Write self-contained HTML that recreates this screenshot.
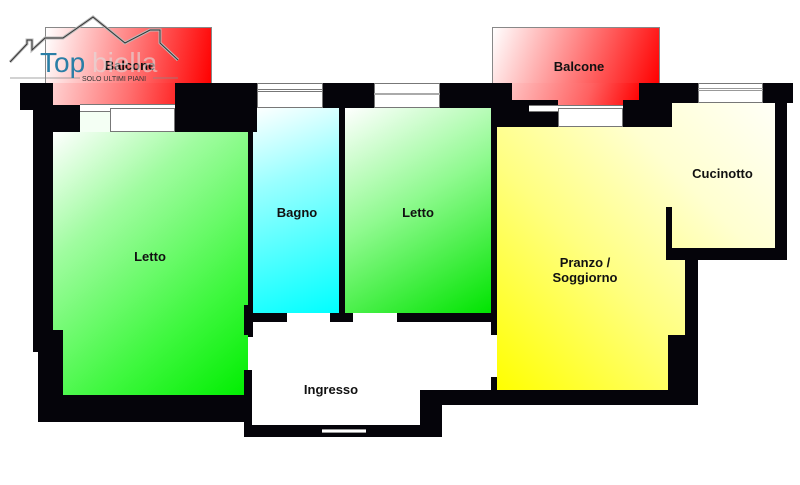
<!DOCTYPE html>
<html><head><meta charset="utf-8"><style>
body{margin:0;width:800px;height:485px;background:#fff;position:relative;overflow:hidden;font-family:"Liberation Sans",Arial,sans-serif}
div{position:absolute;box-sizing:border-box}
.k{background:#05040a}
.t{font-weight:bold;font-size:13px;color:#111;text-align:center;white-space:nowrap}
.w{background:#fff;border:1px solid #777}
</style></head><body>
<!-- balconies -->
<div style="left:45px;top:27px;width:167px;height:57px;border:1px solid #888;border-bottom:none;background:linear-gradient(100deg,#fff 0%,#ff8080 50%,#f00 100%)"></div>
<div style="left:53px;top:83px;width:150px;height:22px;background:linear-gradient(100deg,#ffd0d0 0%,#ff7070 50%,#f00 100%)"></div>
<div style="left:492px;top:27px;width:168px;height:57px;border:1px solid #888;border-bottom:none;background:linear-gradient(110deg,#fff 0%,#ff8080 50%,#f00 100%)"></div>
<div style="left:512px;top:83px;width:127px;height:22px;background:linear-gradient(110deg,#ffc0c0 0%,#ff6060 60%,#f00 100%)"></div>
<!-- rooms -->
<div style="left:53px;top:132px;width:195px;height:263px;background:linear-gradient(140deg,#fff 0%,#a0fca0 30%,#40f840 70%,#00ee00 100%);clip-path:polygon(0 0,100% 0,100% 100%,10px 100%,10px 198px,0 198px)"></div>
<div style="left:80px;top:112px;width:30px;height:20px;background:#f4fff4"></div>
<div style="left:253px;top:108px;width:86px;height:205px;background:linear-gradient(160deg,#fff 0%,#9ff 35%,#0ff 100%)"></div>
<div style="left:345px;top:108px;width:146px;height:205px;background:linear-gradient(150deg,#fff 0%,#90fa90 45%,#00e400 100%)"></div>
<div style="left:252px;top:322px;width:243px;height:103px;background:#fff"></div>
<div style="left:497px;top:100px;width:278px;height:290px;background:linear-gradient(225deg,#fffff8 0%,#ffffd0 30%,#ffff80 60%,#ff0 100%);clip-path:polygon(0 27px,175px 27px,175px 3px,278px 3px,278px 148px,188px 148px,188px 235px,171px 235px,171px 290px,0 290px)"></div>
<!-- walls -->
<div class="k" style="left:20px;top:83px;width:33px;height:27px"></div>
<div class="k" style="left:33px;top:105px;width:47px;height:27px"></div>
<div class="k" style="left:33px;top:110px;width:20px;height:242px"></div>
<div class="k" style="left:38px;top:330px;width:25px;height:90px"></div>
<div class="k" style="left:38px;top:395px;width:214px;height:27px"></div>
<div class="k" style="left:175px;top:83px;width:82px;height:49px"></div>
<div class="k" style="left:203px;top:83px;width:50px;height:25px"></div>
<div class="k" style="left:248px;top:83px;width:5px;height:254px"></div>
<div class="k" style="left:244px;top:370px;width:8px;height:67px"></div>
<div class="k" style="left:244px;top:305px;width:8px;height:30px"></div>
<div class="k" style="left:323px;top:83px;width:51px;height:25px"></div>
<div class="k" style="left:339px;top:100px;width:6px;height:222px"></div>
<div class="k" style="left:440px;top:83px;width:72px;height:25px"></div>
<div class="k" style="left:491px;top:100px;width:6px;height:235px"></div>
<div class="k" style="left:491px;top:377px;width:6px;height:18px"></div>
<div class="k" style="left:497px;top:100px;width:61px;height:27px"></div>
<div class="k" style="left:639px;top:83px;width:59px;height:20px"></div>
<div class="k" style="left:623px;top:100px;width:49px;height:27px"></div>
<div class="k" style="left:763px;top:83px;width:30px;height:20px"></div>
<div class="k" style="left:775px;top:83px;width:12px;height:177px"></div>
<div class="k" style="left:668px;top:248px;width:119px;height:12px"></div>
<div class="k" style="left:666px;top:207px;width:6px;height:53px"></div>
<div class="k" style="left:685px;top:258px;width:13px;height:147px"></div>
<div class="k" style="left:668px;top:335px;width:30px;height:70px"></div>
<div class="k" style="left:420px;top:390px;width:278px;height:15px"></div>
<div class="k" style="left:420px;top:390px;width:22px;height:47px"></div>
<div class="k" style="left:244px;top:425px;width:198px;height:12px"></div>
<div class="k" style="left:252px;top:313px;width:35px;height:9px"></div>
<div class="k" style="left:330px;top:313px;width:23px;height:9px"></div>
<div class="k" style="left:397px;top:313px;width:98px;height:9px"></div>
<!-- windows -->
<div class="w" style="left:80px;top:104px;width:95px;height:8px;border-left:none;border-right:none"></div>
<div class="w" style="left:110px;top:108px;width:65px;height:24px"></div>
<div class="w" style="left:257px;top:83px;width:66px;height:25px"></div>
<div style="left:257px;top:89px;width:66px;height:3px;border-top:1px solid #777;border-bottom:1px solid #777"></div>
<div class="w" style="left:374px;top:83px;width:66px;height:25px"></div>
<div style="left:374px;top:93px;width:66px;height:2px;background:#aaa"></div>
<div class="w" style="left:529px;top:105px;width:94px;height:7px;border-left:none;border-right:none"></div>
<div class="w" style="left:558px;top:108px;width:65px;height:19px"></div>
<div class="w" style="left:698px;top:83px;width:65px;height:20px"></div>
<div style="left:698px;top:88px;width:65px;height:3px;border-top:1px solid #999;border-bottom:1px solid #999"></div>
<div style="left:322px;top:429px;width:44px;height:4px;border-top:1px solid #999;border-bottom:1px solid #999;background:#fff"></div>
<!-- labels -->
<div class="t" style="left:100px;top:249px;width:100px">Letto</div>
<div class="t" style="left:257px;top:205px;width:80px">Bagno</div>
<div class="t" style="left:378px;top:205px;width:80px">Letto</div>
<div class="t" style="left:535px;top:255px;width:100px;line-height:15px">Pranzo /<br>Soggiorno</div>
<div class="t" style="left:680px;top:166px;width:85px">Cucinotto</div>
<div class="t" style="left:291px;top:382px;width:80px">Ingresso</div>
<div class="t" style="left:539px;top:59px;width:80px">Balcone</div>
<div class="t" style="left:90px;top:58px;width:80px">Balcone</div>
<!-- logo -->
<svg style="position:absolute;left:0;top:0" width="260" height="90">
<polyline points="10,62 27,44 27,40 32,40 32,50 45,38 63,38 93,17 125,43 150,30 160,30 160,43 178,60" fill="none" stroke="#bbb" stroke-width="3"/>
<polyline points="10,62 27,44 27,40 32,40 32,50 45,38 63,38 93,17 125,43 150,30 160,30 160,43 178,60" fill="none" stroke="#333" stroke-width="1"/>
<line x1="10" y1="78" x2="80" y2="78" stroke="#888" stroke-width="0.8"/>
<line x1="153" y1="78" x2="178" y2="78" stroke="#888" stroke-width="0.8"/>
<text x="40" y="72" font-family="Liberation Sans,sans-serif" font-size="28" fill="#2a7ea6">Top</text>
<text x="92" y="72" font-family="Liberation Sans,sans-serif" font-size="28" fill="#ddd" fill-opacity="0.6">biella</text>
<text x="82" y="81" font-family="Liberation Sans,sans-serif" font-size="7" fill="#333">SOLO ULTIMI PIANI</text>
</svg>
</body></html>
